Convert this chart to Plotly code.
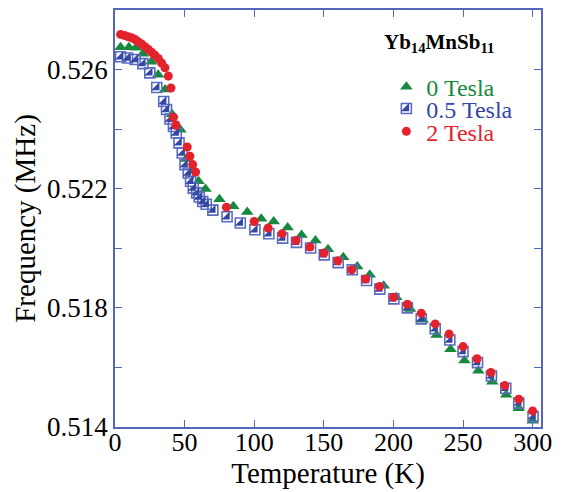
import plotly.graph_objects as go

# Yb14MnSb11 - frecuencia vs temperatura a 0, 0.5 y 2 Tesla
t_0T = [4, 10, 15, 20, 26, 31, 36, 41, 47, 51, 56, 60, 65, 75, 85, 95, 105, 114, 124, 134,
        144, 153, 164, 174, 183, 193, 202, 212, 221, 231, 241, 251, 261, 271, 281, 290, 300]
f_0T = [0.52675, 0.52675, 0.52673, 0.52653, 0.52626, 0.52583, 0.52533, 0.52450, 0.52398, 0.52300,
        0.52260, 0.52225, 0.52199, 0.52165, 0.52141, 0.52122, 0.52099, 0.52090, 0.52070, 0.52045,
        0.52026, 0.51997, 0.51970, 0.51939, 0.51911, 0.51874, 0.51836, 0.51796, 0.51760, 0.51709,
        0.51661, 0.51623, 0.51589, 0.51552, 0.51508, 0.51463, 0.51421]

t_05T = [4, 9, 14.5, 20, 25, 30, 35, 37, 39.5, 42, 44, 46, 48.3, 50.3, 52.6, 54.3, 56.2, 58.7,
         60.5, 63, 65.5, 70.3, 80.5, 90, 100.5, 110.5, 120.4, 130.4, 140.5, 150.3, 160.3, 170.4,
         180.7, 190.2, 200.3, 210, 220, 230, 240.5, 250, 260.4, 270.4, 280.7, 290, 300.3]
f_05T = [0.52643, 0.52639, 0.52634, 0.52620, 0.52589, 0.52540, 0.52493, 0.52466, 0.52434, 0.52409,
         0.52387, 0.52354, 0.52320, 0.52281, 0.52253, 0.52225, 0.52202, 0.52186, 0.52172, 0.52157,
         0.52148, 0.52128, 0.52106, 0.52085, 0.52062, 0.52049, 0.52034, 0.52020, 0.52001, 0.51978,
         0.51952, 0.51928, 0.51892, 0.51863, 0.51830, 0.51800, 0.51763, 0.51730, 0.51692, 0.51653,
         0.51616, 0.51571, 0.51530, 0.51480, 0.51435]

t_2T = [4, 7, 9.6, 12, 14.4, 16.8, 19.1, 21.5, 23.9, 26.3, 28.7, 31.1, 33.5, 35.9, 38.3, 40.2,
        42, 43.8, 51.9, 53.8, 55.8, 57.9, 80, 100, 110, 120, 130, 140, 150, 160, 170, 180, 190,
        200, 210, 220, 230, 240, 250, 260, 270, 280, 290, 300]
f_2T = [0.52718, 0.52714, 0.52710, 0.52707, 0.52701, 0.52693, 0.52686, 0.52677, 0.52668, 0.52658,
        0.52648, 0.52637, 0.52622, 0.52606, 0.52578, 0.52538, 0.52440, 0.52413, 0.52340, 0.52309,
        0.52281, 0.52256, 0.52138, 0.52090, 0.52068, 0.52049, 0.52026, 0.52004, 0.51984, 0.51958,
        0.51928, 0.51897, 0.51872, 0.51836, 0.51812, 0.51782, 0.51746, 0.51712, 0.51670, 0.51629,
        0.51583, 0.51539, 0.51493, 0.51454]

x_ticks = [0, 50, 100, 150, 200, 250, 300]
y_ticks = [0.514, 0.516, 0.518, 0.520, 0.522, 0.524, 0.526, 0.528]
y_labels = ['0.514', '', '0.518', '', '0.522', '', '0.526', '']

verde = '#17893f'
azul = '#3447a3'
rojo = '#e3222c'
eje = '#5567bb'
fuente = 'Liberation Serif'

fig = go.Figure()
fig.add_trace(go.Scatter(
    x=t_0T, y=f_0T, mode='markers', name='0 Tesla', legend='legend',
    marker=dict(symbol='triangle-up', size=11, color=verde),
))
fig.add_trace(go.Scatter(
    x=t_05T, y=f_05T, mode='markers', name='0.5 Tesla', legend='legend2',
    marker=dict(symbol='square-open', size=10, color='#5b6cc0', line=dict(width=1.6)),
))
fig.add_trace(go.Scatter(
    x=t_05T, y=f_05T, mode='markers', name=' ', legend='legend4',
    marker=dict(symbol='triangle-se', size=9, color=azul, line=dict(width=0)),
))
fig.add_trace(go.Scatter(
    x=t_2T, y=f_2T, mode='markers', name='2 Tesla', legend='legend3',
    marker=dict(symbol='circle', size=9, color=rojo),
))

# la pagina tiene 8px de margen en el body, se compensa en los margenes
def leyenda(y, color):
    return dict(x=0.637, y=y, xanchor='left', yanchor='middle',
                bgcolor='rgba(0,0,0,0)', font=dict(family=fuente, size=24, color=color))

fig.update_layout(
    width=563, height=492,
    margin=dict(l=107, r=30, t=2, b=73),
    plot_bgcolor='white', paper_bgcolor='white',
    font=dict(family=fuente, size=27, color='black'),
    showlegend=True,
    legend=leyenda(0.815, verde),
    legend2=leyenda(0.763, azul),
    legend3=leyenda(0.708, rojo),
    legend4=leyenda(0.763, azul),
    annotations=[dict(
        text='<b>Yb<sub>14</sub>MnSb<sub>11</sub></b>', xref='paper', yref='paper',
        x=0.626, y=0.92, xanchor='left', yanchor='middle', showarrow=False,
        font=dict(family=fuente, size=21, color='black'),
    )],
)
fig.update_xaxes(
    range=[0, 306], tickvals=x_ticks, automargin=False,
    ticks='inside', ticklen=7, tickcolor=eje, tickwidth=1.3,
    showline=True, linecolor=eje, linewidth=1.5, mirror='ticks',
    showgrid=False, zeroline=False, ticklabelstandoff=-9,
    title=dict(text='Temperature (K)', font=dict(size=29), standoff=1),
    tickfont=dict(size=26),
)
fig.update_yaxes(
    range=[0.514, 0.528], tickvals=y_ticks, ticktext=y_labels, automargin=False,
    ticks='inside', ticklen=7, tickcolor=eje, tickwidth=1.3,
    showline=True, linecolor=eje, linewidth=1.5, mirror='ticks',
    showgrid=False, zeroline=False,
    title=dict(text='Frequency (MHz)', font=dict(size=29), standoff=3),
    tickfont=dict(size=27),
)

fig.write_html("out.html")
